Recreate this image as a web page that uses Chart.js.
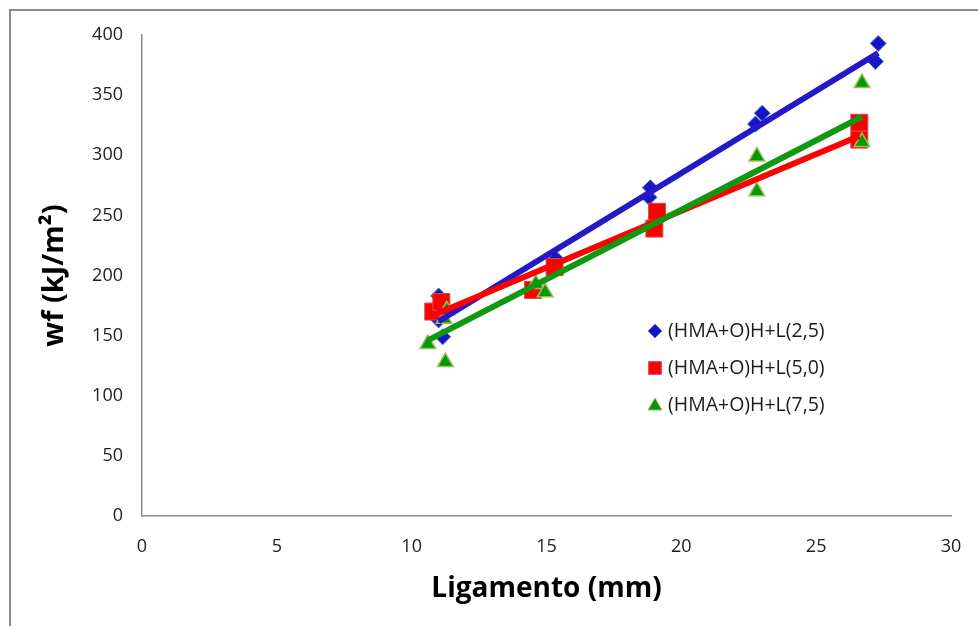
<!DOCTYPE html>
<html>
<head>
<meta charset="utf-8">
<script src="https://cdn.jsdelivr.net/npm/chart.js@4.4.0/dist/chart.umd.min.js"></script>
<style>
  html, body { margin: 0; padding: 0; background: #fff; }
  #wrap { width: 978px; height: 626px; position: relative; }
</style>
</head>
<body>
<div id="wrap"><canvas id="wfChart" width="978" height="626"></canvas></div>
<script>
// series labels
const seriesNames = ['(HMA+O)H+L(2,5)', '(HMA+O)H+L(5,0)', '(HMA+O)H+L(7,5)'];

const blueX = [11.0, 11.0, 11.15, 15.35, 18.8, 18.85, 22.75, 23.0, 27.2, 27.3];
const blueY = [183, 163, 149, 214, 265, 273, 326, 335, 378, 393];

const redX = [10.8, 11.1, 14.5, 15.3, 19.1, 19.0, 26.6, 26.6];
const redY = [170, 178, 188, 207, 253, 239, 327, 313];

const greenX = [10.6, 11.25, 11.2, 11.3, 14.6, 14.95, 22.8, 22.8, 26.7, 26.7];
const greenY = [143, 128, 164, 171, 193, 186, 299, 270, 360, 311];

// trendline ends as seen on the chart
const blueTrendX = [11.0, 27.3];
const blueTrendY = [162, 385];
const redTrendX = [10.8, 26.6];
const redTrendY = [167, 316];
const greenTrendX = [10.6, 26.7];
const greenTrendY = [146, 332];

const xTicks = [0, 5, 10, 15, 20, 25, 30];
const yTicks = [0, 50, 100, 150, 200, 250, 300, 350, 400];

function pts(xs, ys) {
    return xs.map((x, i) => ({ x: x, y: ys[i] }));
}

const FONT = "'Open Sans', 'DejaVu Sans', sans-serif";

// grey frame around the whole chart (like excel chart area)
const framePlugin = {
    id: 'frame',
    beforeDraw(chart) {
        const ctx = chart.ctx;
        ctx.save();
        ctx.fillStyle = '#fff';
        ctx.fillRect(0, 0, chart.width, chart.height);
        ctx.strokeStyle = '#8c8c8c';
        ctx.lineWidth = 2;
        ctx.strokeRect(10, 10, 1200, 1200);
        ctx.restore();
    }
};

// legend inside the plot area
const legendPlugin = {
    id: 'innerLegend',
    afterDraw(chart) {
        const ctx = chart.ctx;
        ctx.save();
        ctx.font = "19.5px " + FONT;
        ctx.textBaseline = 'middle';
        const left = 655, top = 331, gap = 37;
        for (let i = 0; i < 3; i++) {
            const ds = chart.data.datasets[i];
            const y = top + i * gap;
            const r = ds.pointStyle === 'rect' ? 9 : (ds.pointStyle === 'triangle' ? 8 : 7);
            ctx.fillStyle = ds.backgroundColor;
            ctx.strokeStyle = ds.borderColor;
            ctx.lineWidth = 1;
            Chart.helpers.drawPoint(ctx, { pointStyle: ds.pointStyle, radius: r, borderWidth: 1, rotation: 0 }, left, y + (ds.pointStyle === 'triangle' ? 1 : 0));
            ctx.fillStyle = '#1a1a1a';
            ctx.fillText(ds.label, 668, y);
        }
        ctx.restore();
    }
};

const ctx = document.getElementById('wfChart').getContext('2d');
const wfChart = new Chart(ctx, {
    type: 'scatter',
    data: {
        datasets: [
            {
                label: seriesNames[0],
                data: pts(blueX, blueY),
                pointStyle: 'rectRot',
                pointRadius: 8,
                backgroundColor: '#1616c4',
                borderColor: '#5a7fc8',
                borderWidth: 1,
                order: 6
            },
            {
                label: seriesNames[1],
                data: pts(redX, redY),
                pointStyle: 'rect',
                pointRadius: 12,
                backgroundColor: '#ff0000',
                borderColor: '#c85050',
                borderWidth: 1,
                order: 5
            },
            {
                label: seriesNames[2],
                data: pts(greenX, greenY),
                pointStyle: 'triangle',
                pointRadius: 9,
                backgroundColor: '#009a00',
                borderColor: '#9bbb59',
                borderWidth: 1.5,
                order: 4
            },
            {
                label: 'trend 2,5',
                data: pts(blueTrendX, blueTrendY),
                showLine: true,
                pointRadius: 0,
                borderColor: '#2418c8',
                borderWidth: 6,
                order: 3
            },
            {
                label: 'trend 5,0',
                data: pts(redTrendX, redTrendY),
                showLine: true,
                pointRadius: 0,
                borderColor: '#ff0000',
                borderWidth: 6,
                order: 2
            },
            {
                label: 'trend 7,5',
                data: pts(greenTrendX, greenTrendY),
                showLine: true,
                pointRadius: 0,
                borderColor: '#109810',
                borderWidth: 6,
                order: 1
            }
        ]
    },
    options: {
        responsive: false,
        animation: false,
        devicePixelRatio: 1,
        layout: {
            padding: { left: 0, top: 35, right: 27, bottom: 0 }
        },
        plugins: {
            legend: { display: false },
            tooltip: { enabled: false }
        },
        scales: {
            x: {
                type: 'linear',
                min: 0,
                max: 30,
                afterBuildTicks: (scale) => { scale.ticks = xTicks.map(v => ({ value: v })); },
                afterFit: (scale) => { scale.height = 110; scale.paddingRight = 0; },
                grid: { display: false, drawTicks: false },
                border: { display: true, color: '#8c8c8c', width: 1.5 },
                ticks: {
                    color: '#222',
                    padding: 20,
                    font: { family: FONT, size: 18 }
                },
                title: {
                    display: true,
                    text: 'Ligamento (mm)',
                    color: '#000',
                    padding: { top: 0, bottom: 20 },
                    font: { family: FONT, size: 28, weight: 'bold' }
                }
            },
            y: {
                type: 'linear',
                min: 0,
                max: 400,
                afterBuildTicks: (scale) => { scale.ticks = yTicks.map(v => ({ value: v })); },
                afterFit: (scale) => { scale.width = 142; },
                grid: { display: false, drawTicks: false },
                border: { display: true, color: '#8c8c8c', width: 1.5 },
                ticks: {
                    color: '#222',
                    padding: 19,
                    font: { family: FONT, size: 18 }
                },
                title: {
                    display: true,
                    text: 'wf (kJ/m²)',
                    color: '#000',
                    padding: { top: 37, bottom: 0 },
                    font: { family: FONT, size: 29, weight: 'bold' }
                }
            }
        }
    },
    plugins: [framePlugin, legendPlugin]
});
</script>
</body>
</html>
